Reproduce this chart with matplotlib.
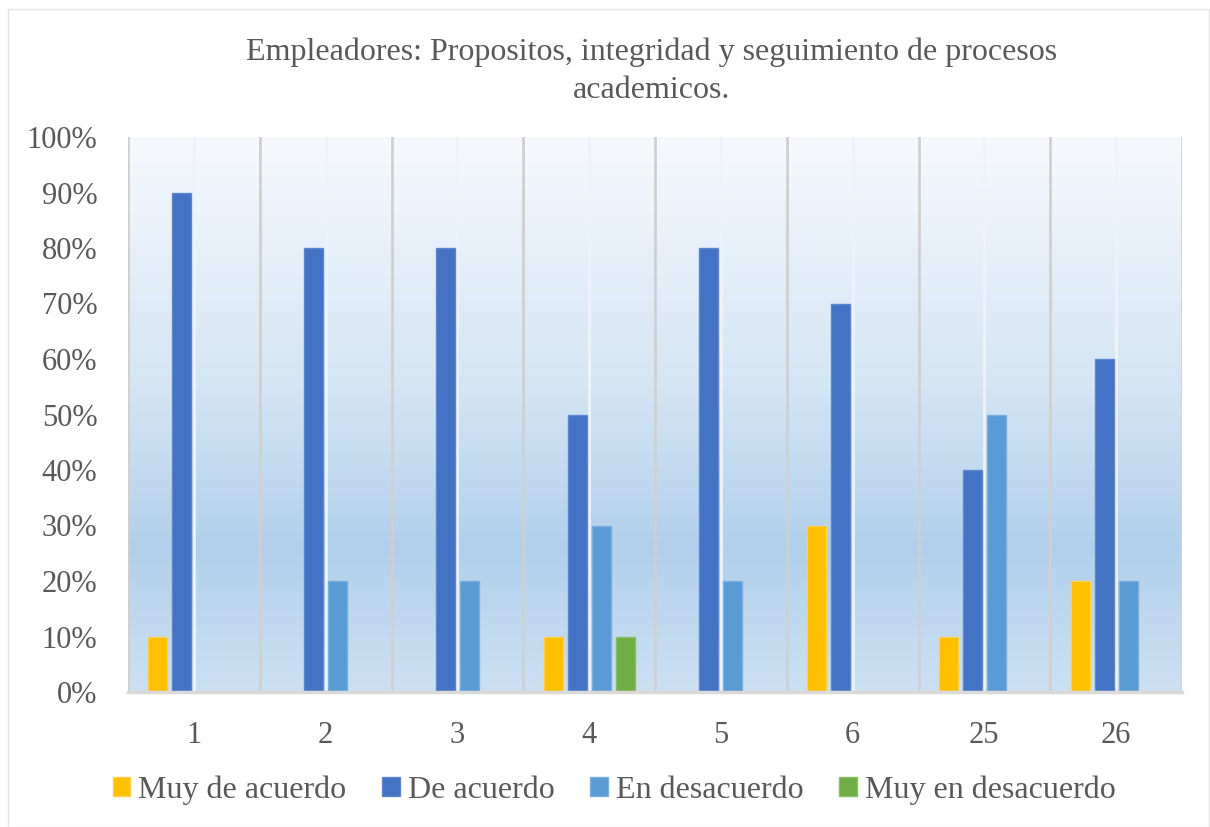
import numpy as np
import matplotlib
matplotlib.use("Agg")
import matplotlib.pyplot as plt
from matplotlib.colors import LinearSegmentedColormap
from matplotlib.patches import Rectangle

categories = ["1", "2", "3", "4", "5", "6", "25", "26"]
muy_de_acuerdo = [0.10, 0.0, 0.0, 0.10, 0.0, 0.30, 0.10, 0.20]
de_acuerdo = [0.90, 0.80, 0.80, 0.50, 0.80, 0.70, 0.40, 0.60]
en_desacuerdo = [0.0, 0.20, 0.20, 0.30, 0.20, 0.0, 0.50, 0.20]
muy_en_desacuerdo = [0.0, 0.0, 0.0, 0.10, 0.0, 0.0, 0.0, 0.0]
series_names = ["Muy de acuerdo", "De acuerdo", "En desacuerdo", "Muy en desacuerdo"]
title = "Empleadores: Propositos, integridad y seguimiento de procesos\nacademicos."

colors = ["#FFC000", "#4472C4", "#5B9BD5", "#70AD47"]
edges = ["#FFD04D", "#5F87CF", "#79AFDE", "#8BBD68"]
txt = "#595959"
font = ["Liberation Serif", "DejaVu Serif"]
plt.rcParams["font.family"] = font

fig = plt.figure(figsize=(12.1, 8.27), dpi=100)
ax = fig.add_axes([128/1210, 1-692/827, (1182-128)/1210, (692-137)/827])

n = len(categories)
x = np.arange(n)
ax.set_xlim(-0.5, n-0.5)
ax.set_ylim(0, 1)

# gradient background
cmap = LinearSegmentedColormap.from_list(
    "bg", [(0.0, "#CCE0F2"), (0.26, "#B2D0EB"), (0.55, "#D4E5F4"), (1.0, "#F6F9FD")])
grad = np.linspace(0, 1, 256).reshape(-1, 1)
ax.imshow(grad, extent=(-0.5, n-0.5, 0, 1), origin="lower", aspect="auto",
          cmap=cmap, zorder=0)

# gridlines
for b in np.arange(-0.5, n, 1.0):
    ax.axvline(b, color="#D0D0D0", lw=2, zorder=1)
for c in x:
    ax.axvline(c, color="#EEF3F9", lw=2, zorder=1)

data = [muy_de_acuerdo, de_acuerdo, en_desacuerdo, muy_en_desacuerdo]
step = 0.182
w = 0.145
for i, (vals, col, ec, name) in enumerate(zip(data, colors, edges, series_names)):
    ax.bar(x + (i - 1.5) * step, vals, width=w, color=col, edgecolor=ec,
           linewidth=1, label=name, zorder=3)

for s in ["top", "right", "left"]:
    ax.spines[s].set_visible(False)
ax.spines["bottom"].set_color("#D9D9D9")
ax.spines["bottom"].set_linewidth(2.5)
ax.spines["bottom"].set_zorder(4)

ax.set_xticks(x)
ax.set_xticklabels(categories)
ax.set_yticks(np.arange(0, 1.01, 0.1))
ax.set_yticklabels([f"{int(round(v*100))}%" for v in np.arange(0, 1.01, 0.1)])
ax.tick_params(axis="both", length=0, labelsize=22, labelcolor=txt)
ax.tick_params(axis="x", pad=21)
ax.tick_params(axis="y", pad=22)

fig.text(652/1210, 1-71/827, title, ha="center", va="center", fontsize=23,
         color=txt, linespacing=1.4)

handles, labels = ax.get_legend_handles_labels()
leg = fig.legend(handles, labels, loc="center", bbox_to_anchor=(614/1210, 1-790/827),
                 ncol=4, frameon=False, fontsize=23, handlelength=0.55,
                 handleheight=0.55, handletextpad=0.25, columnspacing=1.12)
for t in leg.get_texts():
    t.set_color(txt)

fig.patches.append(Rectangle((8/1210, 0), 1201/1210, 1-9/827, transform=fig.transFigure,
                             fill=False, edgecolor="#E3E3E3", lw=1))

fig.savefig("out.png", dpi=100)
